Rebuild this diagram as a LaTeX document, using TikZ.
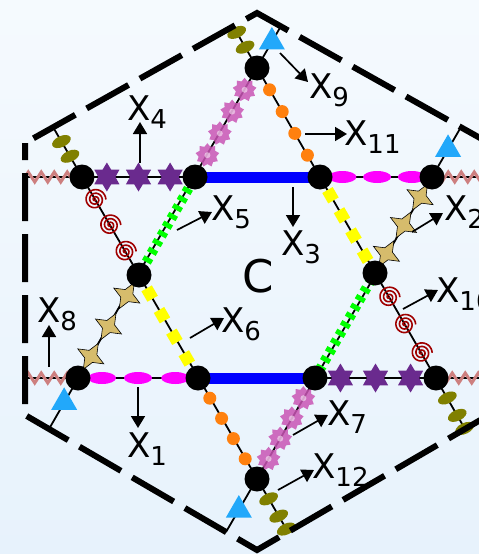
\documentclass[tikz,border=0pt]{standalone}
\usepackage{fontspec}
\setmainfont{DejaVu Sans}
\usetikzlibrary{arrows.meta,calc,shapes.geometric,decorations.pathmorphing}
\definecolor{bgtop}{HTML}{F5FAFE}
\definecolor{bgbot}{HTML}{E7F2FC}
\definecolor{zig}{HTML}{CD7F7F}
\definecolor{plum}{HTML}{6A2A8E}
\definecolor{gearpink}{HTML}{C955B5}
\definecolor{gold}{HTML}{D6BC6C}
\definecolor{swirlred}{HTML}{A00000}
\definecolor{tri}{HTML}{22A8FA}
\definecolor{oliv}{HTML}{808000}
\definecolor{orng}{HTML}{FF800E}
\definecolor{magn}{HTML}{FF00FF}
\definecolor{yell}{HTML}{FFFF00}
\definecolor{lime}{HTML}{00FF00}
\definecolor{pureblue}{HTML}{0000FF}

\newcommand\Xsub[1]{X\raisebox{-8pt}{\fontsize{26}{26}\selectfont #1}}

\begin{document}
\begin{tikzpicture}[
  x=1pt, y=-1pt,
  thinline/.style={draw=black, line width=1.8pt},
  dot/.style={circle, fill=black, minimum size=25pt, inner sep=0pt},
  pstar/.style={star, star points=6, star point ratio=1.7, minimum size=29pt,
                inner sep=0pt, fill=plum},
  gstar/.style={star, star points=4, star point ratio=2.4, minimum size=30pt,
                inner sep=0pt, fill=gold, draw=black, line width=0.6pt, rotate=-30},
  blob/.style={ellipse, minimum width=28pt, minimum height=12pt, inner sep=0pt,
               fill=magn},
  bead/.style={circle, minimum size=13pt, inner sep=0pt, fill=orng},
  cog/.style={star, star points=9, star point ratio=1.35, minimum size=24pt,
              inner sep=0pt, fill=gearpink, fill opacity=0.85},
  hub/.style={circle, minimum size=6pt, inner sep=0pt, fill=white, fill opacity=0.5},
  seed/.style={ellipse, minimum width=20pt, minimum height=11pt, inner sep=0pt,
               fill=oliv, rotate=25},
  tile/.style={rectangle, minimum size=12pt, inner sep=0pt, fill=yell, rotate=30},
  cone/.style={regular polygon, regular polygon sides=3, minimum size=30pt,
               inner sep=0pt, fill=tri},
  bar/.style={draw=pureblue, line width=11pt},
  ladder/.style={draw=lime, line width=10pt, dash pattern=on 5pt off 5pt},
  zz/.style={draw=zig, line width=3pt, decorate,
             decoration={zigzag, amplitude=5pt, segment length=13pt}},
  hexline/.style={draw=black, line width=6pt, dash pattern=on 48pt off 13pt,
                  dash phase=31pt},
  lab/.style={font=\fontsize{34}{34}\selectfont, inner sep=0pt, anchor=base west},
  ptr/.style={-{Triangle[length=12pt,width=14pt]}, line width=1.7pt},
  swirl/.pic={\draw[swirlred, line width=1.6pt]
    plot[domain=0:1080, samples=90, smooth, variable=\a]
    ({\a/100*cos(\a)},{\a/100*sin(\a)});},
]
\useasboundingbox (0,0) rectangle (479,554);
\clip (0,0) rectangle (479,554);
\fill[top color=bgtop, bottom color=bgbot] (0,0) rectangle (479,554);

% ---- the twelve junctions ---------------------------------------------------
\coordinate (T)  at (257,68);
\coordinate (Bt) at (257,479);
\coordinate (A)  at (82,177);
\coordinate (B)  at (195,177);
\coordinate (Cn) at (320,177);
\coordinate (D)  at (432,177);
\coordinate (ML) at (139,275);
\coordinate (MR) at (375,273);
\coordinate (E)  at (78,378);
\coordinate (F)  at (198,378);
\coordinate (G)  at (315,378);
\coordinate (H)  at (436,378);

% ---- where the lines meet the hexagon --------------------------------------
\coordinate (T1)  at (281,26);
\coordinate (E1)  at (49,429);
\coordinate (T2)  at (233,26);
\coordinate (H2)  at (465,429);
\coordinate (D3)  at (461,127);
\coordinate (Bt3) at (226,532);
\coordinate (A4)  at (53,127);
\coordinate (Bt4) at (288,532);
\coordinate (L1)  at (25,177);
\coordinate (R1)  at (489,177);
\coordinate (L2)  at (25,378);
\coordinate (R2)  at (489,378);

% ---- thin lines ------------------------------------------------------------
\draw[thinline] (T1) -- (E1);
\draw[thinline] (T2) -- (H2);
\draw[thinline] (D3) -- (Bt3);
\draw[thinline] (A4) -- (Bt4);
\draw[thinline] (L1) -- (R1);
\draw[thinline] (L2) -- (R2);

% ---- rows ------------------------------------------------------------------
\draw[zz] (L1) -- (A);
\draw[zz] (D) -- (R1);
\draw[zz] (L2) -- (E);
\draw[zz] (H) -- (R2);
\draw[bar] (B) -- (Cn);
\draw[bar] (F) -- (G);
\foreach \t [count=\i] in {0.22,0.5,0.78}
  \node[pstar] (pu\i) at ($(A)!\t!(B)$) {};
\foreach \t [count=\i] in {0.21,0.5,0.79}
  \node[pstar] (pl\i) at ($(G)!\t!(H)$) {};
\foreach \t [count=\i] in {0.2,0.51,0.82}
  \node[blob] (bu\i) at ($(Cn)!\t!(D)$) {};
\foreach \t [count=\i] in {0.2,0.5,0.81}
  \node[blob] (bl\i) at ($(E)!\t!(F)$) {};

% ---- slanted sides ---------------------------------------------------------
\draw[ladder, shorten <=3pt, shorten >=7pt] (B) -- (ML);
\draw[ladder, shorten <=7pt, shorten >=3pt] (MR) -- (G);
\foreach \t [count=\i] in {0.2,0.4,0.6,0.8} {
  \node[cog] (cu\i) at ($(T)!\t!(B)$) {};
  \node[hub] (hu\i) at (cu\i) {};
  \node[cog] (cl\i) at ($(Bt)!\t!(G)$) {};
  \node[hub] (hl\i) at (cl\i) {};
  \node[bead] (du\i) at ($(T)!\t!(Cn)$) {};
  \node[bead] (dl\i) at ($(Bt)!\t!(F)$) {};
}
\foreach \t [count=\i] in {0.19,0.4,0.61,0.82} {
  \node[tile] (qu\i) at ($(Cn)!\t!(MR)$) {};
  \node[tile] (ql\i) at ($(ML)!1-\t!(F)$) {};
}
\foreach \t [count=\i] in {0.2,0.5,0.79} {
  \node[gstar] (sl\i) at ($(ML)!\t!(E)$) {};
  \node[gstar] (sr\i) at ($(MR)!\t!(D)$) {};
}
\foreach \t in {0.23,0.49,0.76} {
  \pic at ($(A)!\t!(ML)$) {swirl};
  \pic at ($(MR)!\t!(H)$) {swirl};
}

% ---- outer stubs -----------------------------------------------------------
\node[cone] (k1) at ($(T)!30pt!(T1)$) {};
\node[cone] (k2) at ($(D)!32pt!(D3)$) {};
\node[cone] (k3) at ($(E)!28pt!(E1)$) {};
\node[cone] (k4) at ($(Bt)!36pt!(Bt3)$) {};
\foreach \s [count=\i] in {24,41} {
  \node[seed] (ot\i) at ($(T)!\s pt!(T2)$) {};
  \node[seed] (oa\i) at ($(A)!\s pt!(A4)$) {};
}
\foreach \s [count=\i] in {23,43,58} {
  \node[seed] (oh\i) at ($(H)!\s pt!(H2)$) {};
  \node[seed] (ob\i) at ($(Bt)!\s pt!(Bt4)$) {};
}

% ---- hexagon ---------------------------------------------------------------
\draw[hexline] (25,143) -- (25,415) -- (257,550) -- (489,415) -- (489,143)
  -- (257,13) -- cycle;

% ---- junction dots ---------------------------------------------------------
\foreach \n in {T,Bt,A,B,Cn,D,ML,MR,E,F,G,H}
  \node[dot] (\n-dot) at (\n) {};

% ---- labels ----------------------------------------------------------------
\node[font=\fontsize{45}{45}\selectfont, inner sep=0pt, anchor=base] (cc)
  at (258,292) {C};
\node[lab] (x1)  at (127,457) {\Xsub{1}};
\node[lab] (x2)  at (444,220) {\Xsub{2}};
\node[lab] (x3)  at (281,255) {\Xsub{3}};
\node[lab] (x4)  at (127,120) {\Xsub{4}};
\node[lab] (x5)  at (211,220) {\Xsub{5}};
\node[lab] (x6)  at (221,332) {\Xsub{6}};
\node[lab] (x7)  at (327,425) {\Xsub{7}};
\node[lab] (x8)  at (37,322)  {\Xsub{8}};
\node[lab] (x9)  at (309,98)  {\Xsub{9}};
\node[lab] (x10) at (436,302) {\Xsub{10}};
\node[lab] (x11) at (344,145) {\Xsub{11}};
\node[lab] (x12) at (312,478) {\Xsub{12}};

\coordinate (t1)  at (138,387); \coordinate (h1)  at (138,428);
\coordinate (t2)  at (412,232); \coordinate (h2)  at (443,213);
\coordinate (t3)  at (293,187); \coordinate (h3)  at (293,227);
\coordinate (t4)  at (140,163); \coordinate (h4)  at (140,122);
\coordinate (t5)  at (177,230); \coordinate (h5)  at (212,212);
\coordinate (t6)  at (190,338); \coordinate (h6)  at (224,318);
\coordinate (t7)  at (293,435); \coordinate (h7)  at (328,415);
\coordinate (t8)  at (49,367);  \coordinate (h8)  at (49,325);
\coordinate (t9)  at (280,53);  \coordinate (h9)  at (308,82);
\coordinate (t10) at (403,309); \coordinate (h10) at (438,290);
\coordinate (t11) at (305,134); \coordinate (h11) at (347,134);
\coordinate (t12) at (278,490); \coordinate (h12) at (314,470);
\foreach \k in {1,...,12}
  \draw[ptr] (t\k) -- (h\k);

\end{tikzpicture}
\end{document}
